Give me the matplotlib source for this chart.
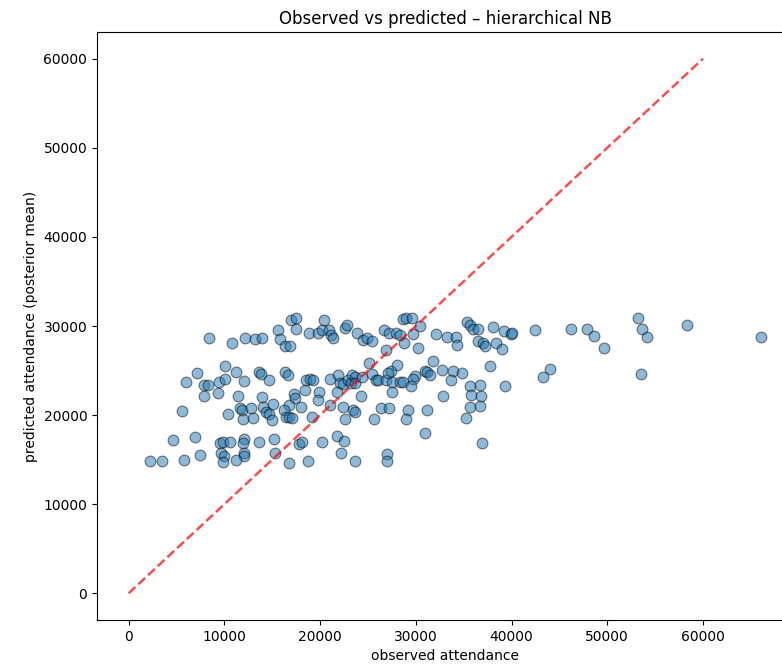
import numpy as np
import matplotlib
matplotlib.use("Agg")
import matplotlib.pyplot as plt

# observed attendance vs posterior-mean prediction, one point per match
observed = [
    2200, 3500, 4600, 5600, 5800, 6000, 6900, 7100, 7500, 7900,
    7900, 8300, 8400, 9300, 9400, 9500, 9900, 10600, 9700, 10000,
    9900, 10100, 10100, 10800, 11200, 12000, 12200, 13200, 13900, 13600,
    13800, 14700, 15600, 15800, 16300, 16900, 17000, 17500, 17500, 16300,
    16700, 11400, 13900, 15100, 17300, 17400, 16800, 18000, 11600, 11800,
    12800, 14000, 14300, 14700, 10400, 11900, 13000, 15000, 16200, 16400,
    16800, 17100, 12000, 11900, 12000, 12100, 11200, 13600, 15200, 15300,
    17800, 18100, 16800, 18400, 18800, 18500, 18700, 20400, 19800, 20200,
    20900, 21100, 21300, 22600, 22800, 23900, 24500, 24900, 25400, 26700,
    27200, 26900, 25100, 18900, 19300, 21000, 21900, 22100, 22400, 22900,
    23300, 23600, 23200, 23700, 24400, 25400, 25800, 26100, 26900, 27400,
    27100, 27500, 19900, 19800, 21800, 24300, 27500, 21000, 22400, 23400,
    23600, 26400, 27200, 19200, 22600, 25600, 20200, 21800, 22500, 22200,
    23700, 27000, 27000, 28700, 29000, 29600, 30400, 27900, 28300, 28800,
    29700, 30200, 32100, 33300, 34200, 34300, 35400, 35700, 36000, 28000,
    31800, 32700, 31000, 31200, 31500, 29900, 29700, 28300, 28700, 29500,
    33900, 34800, 33700, 35700, 35800, 35700, 32800, 29200, 29000, 31200,
    35200, 31000, 36500, 38100, 39200, 39900, 40100, 42500, 36500, 37000,
    37200, 38400, 39000, 37700, 44000, 43300, 36700, 36800, 36700, 39300,
    36900, 46200, 47900, 48600, 49700, 53200, 53600, 54200, 58300, 66100,
    53500,
]
predicted = [
    14900, 14900, 17200, 20500, 15000, 23700, 17500, 24700, 15500, 22100,
    23400, 23400, 28600, 22500, 23700, 16900, 17000, 17000, 15700, 15400,
    14700, 25500, 24000, 28100, 24800, 23800, 28600, 28500, 28600, 24800,
    24600, 23900, 29600, 28500, 27800, 27800, 30700, 30900, 29700, 24800,
    24500, 22100, 22000, 21300, 22400, 21900, 21100, 20900, 20800, 20600,
    20800, 20900, 20400, 20100, 20100, 19600, 19700, 19400, 20600, 19800,
    19800, 19700, 17300, 16900, 15800, 15400, 15000, 17000, 17300, 15800,
    16700, 17000, 14600, 22800, 29200, 23900, 14900, 30700, 29200, 29600,
    29500, 29000, 28600, 29800, 30100, 29200, 28400, 28700, 28300, 29500,
    29200, 27300, 25800, 24100, 23900, 24000, 24500, 23600, 23500, 23900,
    24500, 24300, 23600, 23600, 24300, 24600, 23900, 23900, 23900, 24900,
    24700, 23700, 22600, 21700, 22600, 22100, 22600, 21100, 20900, 20600,
    20400, 20800, 20800, 19800, 19600, 19600, 17000, 17700, 17100, 15700,
    14800, 15600, 14900, 30800, 30900, 30900, 30000, 29200, 29000, 28100,
    29100, 27500, 29100, 28800, 28800, 27900, 30500, 30100, 29700, 25600,
    26100, 25100, 25000, 24800, 24500, 24400, 24100, 23700, 23700, 23300,
    25000, 24700, 23900, 23300, 22200, 20900, 22100, 20600, 19600, 20600,
    19700, 18000, 29700, 29900, 29400, 29100, 29200, 29500, 28300, 28100,
    27700, 28100, 27400, 25500, 25200, 24300, 23400, 22100, 21000, 23300,
    16900, 29700, 29700, 28900, 27500, 30900, 29700, 28800, 30100, 28800,
    24600,
]
diag = [0, 60000]

fig = plt.figure(figsize=(7.82, 6.72), dpi=100)
ax = fig.add_axes([97 / 782, 52 / 672, 696 / 782, 588 / 672])

ax.scatter(observed, predicted, s=60, alpha=0.5, edgecolor="k", linewidths=0.8)
ax.plot(diag, diag, "r--", alpha=0.7, lw=1.8)

ax.set_xlabel("observed attendance")
ax.set_ylabel("predicted attendance (posterior mean)")
ax.set_title("Observed vs predicted \u2013 hierarchical NB")

fig.savefig("out.png", dpi=100)
